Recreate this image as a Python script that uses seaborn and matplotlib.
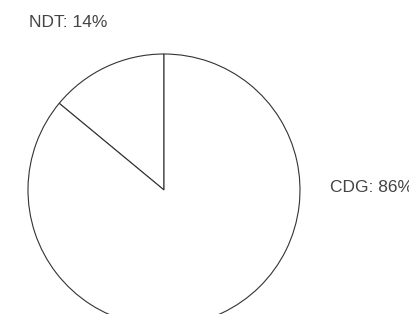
import matplotlib
matplotlib.use("Agg")
import matplotlib.pyplot as plt
import seaborn as sns

# slice data
labels = ["NDT", "CDG"]
shares = [14, 86]

sns.set_style("white")
plt.rcParams["font.family"] = ["Liberation Sans", "DejaVu Sans"]

fig = plt.figure(figsize=(4.10, 3.14), dpi=100)
# axes placed so the pie center sits at ~(164, 190) px with radius ~136 px
ax = fig.add_axes([28 / 410, -12 / 314, 272 / 410, 272 / 314])

ax.pie(shares, startangle=90, counterclock=True, radius=1,
       colors=["white", "white"],
       wedgeprops=dict(edgecolor="#333333", linewidth=0.8))
ax.set_xlim(-1, 1)
ax.set_ylim(-1, 1)
ax.set_aspect("auto")
ax.axis("off")

# labels, placed outside the pie
txt = dict(fontsize=12.5, color="#444444", va="center")
ax.text(-0.99, 1.235, f"{labels[0]}: {shares[0]}%", ha="left", **txt)
ax.text(1.22, 0.02, f"{labels[1]}: {shares[1]}%", ha="left", **txt)

fig.savefig("out.png", dpi=100, facecolor="white")
